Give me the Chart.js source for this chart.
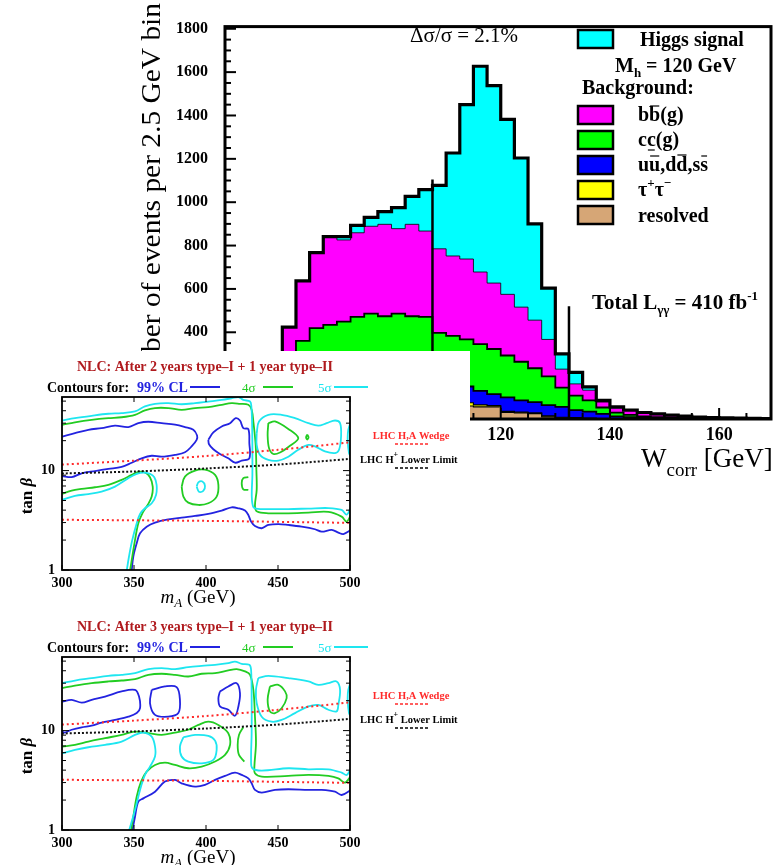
<!DOCTYPE html>
<html><head><meta charset="utf-8">
<script src="https://cdn.jsdelivr.net/npm/chart.js@4.4.1/dist/chart.umd.min.js"></script>
<style>
html,body{margin:0;padding:0;background:#fff;}
body{width:776px;height:865px;overflow:hidden;position:relative;}
canvas{position:absolute;left:0;}
#hist{top:0;}
#cover{position:absolute;left:0;top:351px;width:470px;height:514px;background:#fff;}
#p1{top:351px;}
#p2{top:611px;}
</style></head><body>
<canvas id="hist" width="776" height="480" style="width:776px;height:480px"></canvas>
<div id="cover"></div>
<canvas id="p1" width="470" height="260" style="width:470px;height:260px"></canvas>
<canvas id="p2" width="470" height="260" style="width:470px;height:260px"></canvas>
<script>
const SERIF = '"Liberation Serif", "Times New Roman", serif';

// ================= Histogram data =================
const binLow = [80,82.5,85,87.5,90,92.5,95,97.5,100,102.5,105,107.5,110,112.5,115,117.5,120,122.5,125,127.5,130,132.5,135,137.5,140,142.5,145,147.5,150,152.5,155,157.5,160,162.5,165,167.5];
const binWidth = 2.5;
const resolvedBkg = [50,70,80,85,85,85,85,85,80,80,75,70,65,60,56,56,30,28,25,10,5,4,2,1,0,0,0,0,0,0,0,0,0,0,0,0];
const tautauBkg   = [20,25,30,30,33,35,35,35,38,35,35,30,25,15,9,6,5,4,3,4,3,2,2,1,1,0,0,0,0,0,0,0,0,0,0,0];
const udsBkg      = [50,65,70,75,77,80,85,85,87,85,85,85,80,75,65,53,65,54,50,50,48,35,30,22,11,8,5,3,2,1,1,0,0,0,0,0];
const ccBkg       = [130,200,239,244,254,271,281,269,281,274,276,212,213,217,215,208,193,178,156,133,89,67,52,29,17,11,7,6,4,3,2,2,2,1,1,0];
const bbBkg       = [174,277,348,407,377,388,403,424,392,424,396,388,369,371,333,304,282,252,222,170,85,54,47,25,21,22,16,11,9,6,4,3,2,2,1,1];
const higgsSignal = [0,0,0,0,15,34,41,59,97,129,191,293,475,712,949,911,807,688,444,237,70,53,15,8,6,0,2,4,3,3,2,1,1,1,1,1];
const cutPositions = [107.5, 132.5];
const cutHeights = [1105, 520];
const histYTicks = [0,200,400,600,800,1000,1200,1400,1600,1800];
const histXTicks = [80,100,120,140,160];

const layerDefs = [
  {vals: resolvedBkg, color:'#d6a676', w:1.2},
  {vals: tautauBkg,   color:'#ffff00', w:1.2},
  {vals: udsBkg,      color:'#0000ff', w:1.8},
  {vals: ccBkg,       color:'#00ff00', w:1.8},
  {vals: bbBkg,       color:'#ff00ff', w:0.8},
  {vals: higgsSignal, color:'#00ffff', w:3.2}
];
let running = binLow.map(()=>0);
const histDatasets = layerDefs.map(L => {
  running = running.map((v,i)=>v+L.vals[i]);
  const pts = [{x:binLow[0], y:0}]
    .concat(running.map((v,i)=>({x:binLow[i], y:v})))
    .concat([{x:binLow[binLow.length-1]+binWidth, y:0}]);
  return {data:pts, stepped:true, fill:'origin', backgroundColor:L.color, borderColor:'#000',
          borderWidth:L.w, pointRadius:0, borderJoinStyle:'miter'};
});
cutPositions.forEach((c,i)=>histDatasets.push({
  data:[{x:c,y:0},{x:c,y:cutHeights[i]}], borderColor:'#000', borderWidth:2.5,
  pointRadius:0, fill:false, order:-1}));

function seg(ctx,x1,y1,x2,y2){ctx.beginPath();ctx.moveTo(x1,y1);ctx.lineTo(x2,y2);ctx.stroke();}
function runs(ctx, x, y, items, color){
  ctx.fillStyle=color; ctx.strokeStyle=color; ctx.textAlign='left'; ctx.textBaseline='alphabetic';
  for(const it of items){
    ctx.font=it.f; ctx.fillText(it.t, x, y+(it.dy||0));
    const w=ctx.measureText(it.t).width;
    if(it.bar){ctx.lineWidth=1.2; seg(ctx,x+1,y-it.bar,x+w-1,y-it.bar);}
    x+=w;
  }
  return x;
}
function runsWidth(ctx, items){let w=0;for(const it of items){ctx.font=it.f;w+=ctx.measureText(it.t).width;}return w;}

const B20 = 'bold 20px '+SERIF, B21='bold 21px '+SERIF, B13='bold 13px '+SERIF;
const histDecor = {
  id:'histDecor',
  afterDraw(chart){
    const {ctx, chartArea:a, scales:{x,y}} = chart;
    ctx.save();
    ctx.strokeStyle='#000'; ctx.lineWidth=3;
    ctx.strokeRect(a.left, a.top, a.right-a.left, a.bottom-a.top);
    ctx.lineWidth=2;
    for(let v=0; v<=1800; v+=50){const py=y.getPixelForValue(v); seg(ctx,a.left,py,a.left+(v%200===0?11:6),py);}
    for(let v=70; v<=165; v+=5){const px=x.getPixelForValue(v); seg(ctx,px,a.bottom,px,a.bottom-(v%20===0?11:6));}
    // y title
    ctx.save(); ctx.translate(153,3); ctx.rotate(-Math.PI/2); ctx.scale(1.09,1);
    ctx.font='27px '+SERIF; ctx.fillStyle='#000'; ctx.textAlign='right'; ctx.textBaseline='middle';
    ctx.fillText('Number of events per 2.5 GeV bin',0,0); ctx.restore();
    // x title
    runs(ctx, 641, 467, [{t:'W',f:'27px '+SERIF},{t:'corr',f:'19px '+SERIF,dy:9},{t:' [GeV]',f:'27px '+SERIF}], '#000');
    // delta sigma
    ctx.font='21px '+SERIF; ctx.fillStyle='#000'; ctx.textAlign='left'; ctx.fillText('\u0394\u03c3/\u03c3 = 2.1%', 410, 42);
    // legend
    const boxes=[[30,5],[106,4],[131,3],[156,2],[181,1],[206,0]];
    for(const [top,idx] of boxes){
      ctx.fillStyle=layerDefs[idx].color; ctx.fillRect(578,top,35,18);
      ctx.strokeStyle='#000'; ctx.lineWidth=2.5; ctx.strokeRect(578,top,35,18);
    }
    runs(ctx, 640, 46, [{t:'Higgs signal',f:B20}], '#000');
    runs(ctx, 615, 72, [{t:'M',f:B20},{t:'h',f:B13,dy:5},{t:' = 120 GeV',f:B20}], '#000');
    runs(ctx, 582, 94, [{t:'Background:',f:B20}], '#000');
    runs(ctx, 638, 121, [{t:'b',f:B20},{t:'b',f:B20,bar:15},{t:'(g)',f:B20}], '#000');
    runs(ctx, 638, 146, [{t:'c',f:B20},{t:'c',f:B20,bar:-4},{t:'(g)',f:B20}], '#000');
    runs(ctx, 638, 171, [{t:'u',f:B20},{t:'u',f:B20,bar:15},{t:',d',f:B20},{t:'d',f:B20,bar:16},{t:',s',f:B20},{t:'s',f:B20,bar:15}], '#000');
    runs(ctx, 638, 196, [{t:'\u03c4',f:B20},{t:'+',f:B13,dy:-9},{t:'\u03c4',f:B20},{t:'\u2212',f:B13,dy:-9}], '#000');
    runs(ctx, 638, 222, [{t:'resolved',f:B20}], '#000');
    runs(ctx, 592, 309, [{t:'Total L',f:B21},{t:'\u03b3\u03b3',f:B13,dy:5},{t:' = 410 fb',f:B21},{t:'-1',f:B13,dy:-9}], '#000');
    ctx.restore();
  }
};

new Chart(document.getElementById('hist'), {
  type:'line',
  data:{datasets:histDatasets},
  options:{
    responsive:false, animation:false, events:[],
    layout:{padding:{left:0,right:5,top:12,bottom:0}},
    plugins:{legend:{display:false}, tooltip:{enabled:false}, filler:{drawTime:'beforeDatasetsDraw', propagate:false}},
    scales:{
      x:{type:'linear', min:69.5, max:169.5,
         afterBuildTicks:s=>{s.ticks=histXTicks.map(v=>({value:v}));},
         afterFit:s=>{s.height=61;},
         grid:{display:false, drawTicks:false}, border:{display:false},
         ticks:{color:'#000', font:{family:SERIF,size:18,weight:'bold'}, padding:6, maxRotation:0, autoSkip:false, callback:v=>String(v)}},
      y:{type:'linear', min:0, max:1810,
         afterBuildTicks:s=>{s.ticks=histYTicks.map(v=>({value:v}));},
         afterFit:s=>{s.width=225;},
         grid:{display:false, drawTicks:false}, border:{display:false},
         ticks:{color:'#000', font:{family:SERIF,size:16,weight:'bold'}, padding:17, autoSkip:false, callback:v=>String(v)}}
    }
  },
  plugins:[histDecor]
});

// ================= Contour panels data (mA [GeV], tan beta) =================
const panelXTicks = [300,350,400,450,500];
const panelYTicks = [1,10];
const wedgeUpper = [[300,11.5],[350,12.6],[400,14.0],[450,16.2],[500,19.2]];
const wedgeLower = [[300,3.2],[400,3.12],[500,2.98]];
const hplusLimit = [[300,9.35],[350,9.8],[400,10.5],[450,11.5],[500,13.1]];
const cyanEdgeArc = [[500.7,31.2],[498.8,25.7],[498.4,20.4],[499.3,15],[500.7,13.8]];

const p1Cyan5Band = [[300.2,31.9],[309,33.7],[320.6,35.6],[332.2,37.3],[341.4,37.9],[350.7,39.4],[357.6,44.2],[364.6,47.0],[373.8,47.7],[383.1,46.5],[392.4,47.7],[401.6,49.5],[410.9,51.4],[417.8,53.4],[422.5,54.9],[425.9,51.4],[430.6,49.5],[431.5,44],[432,30],[432.2,18],[432.2,9],[431.8,5.5],[432.9,4.3],[436,4.12],[443.3,4.1],[457.2,4.1],[471,4.15],[485,4.2],[494.2,4.02],[497.7,3.6],[500.7,4.3]];
const p1Green4Band = [[300.2,28.9],[309,30.6],[320.6,32.4],[332.2,33.7],[341.4,34.4],[350.7,36.4],[357.6,40.3],[364.6,42.6],[373.8,42.6],[383.1,40.9],[392.4,42.6],[401.6,43.5],[410.9,45.9],[417.8,47.7],[423.6,47.0],[429.4,45.9],[431.7,40.9],[433,30],[434.5,18],[435,10],[435.2,6.4],[434,4.4],[435.5,3.87],[443.3,3.72],[457.2,3.72],[471.1,3.78],[485,3.84],[494.2,3.44],[497.7,3.07],[500.7,3.58]];
const p1Blue99Left = [[300.2,22.0],[309,23.8],[318.3,25.7],[327.5,26.8],[336.8,28.3],[346.1,27.4],[353,30.0],[360,31.0],[369.2,30.0],[378.5,29.0],[385.4,27.4],[391.2,25.7],[393.8,22.5],[393.5,20.4],[390,17.5],[385.4,15.3],[378.5,14.4],[369.2,13.8],[362.3,14.1],[355.3,13.3],[348.4,12.0],[341.4,10.9],[332.2,10.4],[322.9,9.9],[313.7,9.4],[306.7,8.6],[300.2,8.8]];
const p1Blue99Mid = [[401.6,20.4],[405.1,24.2],[410.9,27.8],[416.7,30.0],[420.6,33.7],[423.6,31.9],[425.9,26.8],[429.4,26.1],[430.1,18.9],[430.1,13.3],[424.8,12.6],[420.1,12.0],[415.5,13.3],[409.7,14.7],[405.1,16.4],[402.1,18.4],[401.6,20.4]];
const p1Blue99Low = [[348.4,0.98],[349.5,1.36],[351.9,1.86],[354.2,2.34],[358.8,2.73],[364.6,3.0],[373.8,3.23],[383.1,3.37],[392.4,3.5],[401.6,3.66],[410.9,3.96],[417.8,4.27],[422.5,4.18],[427.1,3.96],[429.4,3.58],[431.3,3.07],[434,2.77],[438.7,2.63],[443.3,2.84],[450.2,2.9],[457.2,2.84],[466.4,2.73],[475.7,2.57],[480.3,2.43],[487.3,2.53],[491.9,2.38],[495.4,2.3],[500.7,2.53]];
const p1Green4Low = [[347.2,0.98],[348.8,1.36],[350.7,2.0],[353,2.95],[355.8,3.72],[359.5,4.51],[362.3,5.48],[363,6.9],[361.1,8.58],[357.6,9.56],[353,9.7],[348.4,9.05],[341.4,8.07],[332.2,7.18],[322.9,6.8],[313.7,6.55],[306.7,6.3],[300.2,5.85]];
const p1Cyan5Low = [[344.9,0.98],[346.5,1.36],[348.8,2.0],[351.9,2.95],[354.2,3.66],[357.6,4.18],[362.3,4.69],[365.3,5.69],[365.7,7.18],[364.1,8.58],[361.1,9.26],[356.5,9.56],[351.9,9.26],[346.1,8.39],[336.8,6.9],[327.5,6.14],[318.3,5.8],[309,5.57],[300.2,5.07]];
const p1Green4Ring = [[383.1,6.9],[385.4,8.71],[392.4,10.0],[399.3,10.2],[406.3,9.05],[408.6,7.18],[407.4,5.48],[401.6,4.69],[394.7,4.51],[387.7,4.76],[384.3,5.48],[383.1,6.9]];
const p1Cyan5Dot = [[393.5,6.9],[394.7,7.6],[397.5,7.76],[399.3,7.0],[398.1,6.24],[395.1,6.14],[393.5,6.9]];
const p1Green4Bump = [[429.4,8.58],[425.9,8.39],[424.8,7.46],[425.9,6.49],[429.4,6.39]];
const p1Cyan5Right = [[435.2,23.8],[436.8,31.2],[443.3,36.4],[452.5,36.4],[461.8,33.7],[471.1,30.0],[478,28.3],[483.8,30.0],[489.6,31.9],[493.1,30.0],[493.8,22.0],[492.4,16.2],[489.6,15.0],[482.6,15.6],[475.7,17.5],[471.1,18.1],[464.1,16.2],[457.2,13.8],[450.2,12.6],[443.3,12.8],[437.5,14.4],[435.2,18.1],[435.2,23.8]];
const p1Green4Tri = [[443.3,30.0],[447.9,31.2],[457.2,26.2],[464.1,21.2],[458.3,17.8],[451.4,15.2],[446.8,14.7],[443.8,16.8],[442.8,22.8],[443.3,30.0]];
const p1Green4Dot = [[470.3,23.0],[471.2,21.7],[470.3,20.5],[469.5,21.7],[470.3,23.0]];

const p2Cyan5Band = [[300.2,30.0],[309,31.9],[320.6,33.7],[332.2,35.6],[341.4,36.4],[350.7,37.9],[360,41.6],[369.2,42.6],[378.5,41.6],[387.7,43.5],[397,44.8],[406.3,45.9],[415.5,47.7],[420.1,49.5],[424.8,47.0],[430.1,45.9],[431.3,40.9],[431.7,20.4],[431.7,9.41],[431.3,5.07],[432.2,4.18],[438.7,3.96],[457.2,4.18],[471.1,4.08],[485,4.08],[494.2,3.78],[497.7,3.58],[500.7,4.18]];
const p2Green4Band = [[300.2,26.8],[309,28.3],[320.6,30.0],[332.2,31.2],[341.4,31.9],[350.7,32.9],[360,36.4],[369.2,37.3],[378.5,36.4],[387.7,35.0],[397,37.3],[406.3,37.9],[415.5,40.3],[421.3,41.6],[427.1,39.4],[430.6,36.4],[432.9,25.7],[434,13.8],[434.7,7.46],[433.6,4.34],[434,3.72],[438.7,3.44],[457.2,3.5],[471.1,3.58],[485,3.5],[491.9,3.31],[496.5,3.0],[500.7,3.5]];
const p2Blue99Left = [[300.2,19.6],[306.7,20.4],[313.7,19.1],[320.6,20.4],[329.9,22.0],[341.4,24.8],[350.7,25.7],[353.5,22.0],[354.2,16.8],[351.9,15.0],[346.1,13.8],[336.8,12.8],[327.5,12.0],[320.6,11.2],[313.7,10.8],[306.7,10.2],[302,9.56],[300.2,9.78]];
const p2Blue99Ring = [[362.3,25.7],[371.5,27.8],[379.6,27.4],[381.9,20.4],[380.8,15.0],[373.8,13.8],[364.6,14.4],[361.1,18.9],[362.3,25.7]];
const p2Blue99Oval = [[409.7,24.8],[415.5,27.8],[421.3,30.0],[423.6,23.8],[422.5,17.5],[420.1,14.1],[415.5,16.2],[409.7,17.5],[408.6,21.2],[409.7,24.8]];
const p2Green4Mid = [[347.9,0.98],[349.5,1.36],[351.9,2.17],[354.9,3.07],[358.8,3.87],[364.6,4.51],[371.5,4.76],[378.5,4.51],[387.7,4.18],[397,4.34],[406.3,4.88],[413.2,5.69],[416.7,7.18],[415.5,9.41],[408.6,11.4],[401.6,12.3],[394.7,11.4],[387.7,10.2],[378.5,9.56],[369.2,9.05],[360,9.41],[350.7,9.78],[341.4,9.05],[329.9,8.39],[318.3,7.76],[309,7.18],[300.2,6.9]];
const p2Green4Bump = [[425.9,10.8],[422.9,9.05],[422,7.18],[422.9,5.69],[426.6,4.88]];
const p2Cyan5Low = [[300.2,5.91],[309,6.39],[318.3,6.8],[329.9,7.18],[341.4,7.76],[350.7,9.05],[356.5,9.56],[362.3,8.71],[364.6,6.9],[364.6,5.48],[361.1,4.34],[357.6,3.58],[354.2,2.53],[350.7,1.59],[346.5,0.98]];
const p2Cyan5Ring = [[384.3,8.58],[392.4,9.05],[401.6,8.84],[406.3,7.92],[407.4,6.39],[405.1,5.07],[397,4.69],[387.7,4.88],[383.1,5.48],[381.9,6.9],[384.3,8.58]];
const p2Blue99Low = [[348.8,0.98],[350.7,1.36],[353,1.93],[356.5,2.08],[364.6,2.43],[371.5,3.07],[378.5,3.19],[383.1,2.95],[392.4,2.73],[399.3,2.84],[406.3,3.19],[413.2,3.5],[420.1,3.78],[424.8,3.58],[429.4,3.31],[431.7,2.95],[434,2.53],[438.7,2.38],[447.9,2.53],[457.2,2.57],[471.1,2.53],[480.3,2.53],[489.6,2.43],[494.2,2.25],[500.7,2.53]];
const p2Cyan5Right = [[436.3,33.7],[443.3,35.6],[457.2,33.7],[471.1,31.2],[478,28.9],[485,30.0],[490.7,31.2],[493.1,25.7],[491.9,18.1],[490.7,15.6],[485,16.2],[478,18.1],[471.1,17.5],[461.8,15.0],[452.5,12.8],[445.6,12.3],[438.7,13.8],[435.2,18.9],[434.7,25.7],[436.3,33.7]];
const p2Green4Oval = [[444.4,27.8],[450.2,28.9],[454.9,24.8],[456,21.2],[452.5,16.8],[447.9,15.0],[444.4,15.6],[442.8,20.4],[444.4,27.8]];

const C_BLUE='#2323e0', C_GREEN='#22cc22', C_CYAN='#1ee6f0', C_RED='#ff2a2a', C_TITLE='#b01a1e';

function panelDecor(titleText){
  return {
    id:'panelDecor',
    afterDraw(chart){
      const {ctx, chartArea:a, scales:{x,y}} = chart;
      ctx.save();
      ctx.strokeStyle='#000'; ctx.lineWidth=1.8;
      ctx.strokeRect(a.left,a.top,a.right-a.left,a.bottom-a.top);
      ctx.lineWidth=1;
      for(const v of panelXTicks){const px=x.getPixelForValue(v); seg(ctx,px,a.bottom,px,a.bottom-5); seg(ctx,px,a.top,px,a.top+5);}
      for(let d=1; d<=10; d*=10) for(let m=1; m<10; m++){
        const v=m*d; if(v>55) continue; const py=y.getPixelForValue(v); const len=(m===1)?7:4;
        seg(ctx,a.left,py,a.left+len,py); seg(ctx,a.right,py,a.right-len,py);
      }
      // title
      ctx.font='bold 14px '+SERIF; ctx.fillStyle=C_TITLE; ctx.textAlign='center'; ctx.textBaseline='alphabetic';
      ctx.fillText(titleText, 205, 20);
      // legend row
      runs(ctx, 47, 41, [{t:'Contours for:',f:'bold 14px '+SERIF}], '#000');
      runs(ctx, 137, 41, [{t:'99% CL',f:'bold 14px '+SERIF}], C_BLUE);
      runs(ctx, 242, 41, [{t:'4\u03c3',f:'13px '+SERIF}], C_GREEN);
      runs(ctx, 318, 41, [{t:'5\u03c3',f:'13px '+SERIF}], C_CYAN);
      ctx.lineWidth=2;
      ctx.strokeStyle=C_BLUE; seg(ctx,190,36,220,36);
      ctx.strokeStyle=C_GREEN; seg(ctx,263,36,293,36);
      ctx.strokeStyle=C_CYAN; seg(ctx,334,36,368,36);
      // LHC annotations
      ctx.font='bold 10.5px '+SERIF; ctx.fillStyle=C_RED; ctx.textAlign='center';
      ctx.fillText('LHC H,A Wedge', 411, 88);
      ctx.setLineDash([3,2]); ctx.strokeStyle=C_RED; ctx.lineWidth=1.6; seg(ctx,395,93,430,93);
      ctx.setLineDash([]);
      runs(ctx, 360, 112, [{t:'LHC H',f:'bold 10.5px '+SERIF},{t:'+',f:'bold 8px '+SERIF,dy:-6},{t:' Lower Limit',f:'bold 10.5px '+SERIF}], '#000');
      ctx.setLineDash([3,2]); ctx.strokeStyle='#000'; ctx.lineWidth=1.6; seg(ctx,395,117,430,117);
      ctx.setLineDash([]);
      // y title
      ctx.save(); ctx.translate(26,145); ctx.rotate(-Math.PI/2);
      const yItems=[{t:'tan ',f:'bold 17px '+SERIF},{t:'\u03b2',f:'italic bold 17px '+SERIF}];
      const yw=runsWidth(ctx,yItems);
      runs(ctx, -yw/2, 6, yItems, '#000'); ctx.restore();
      // x title
      const xItems=[{t:'m',f:'italic 19px '+SERIF},{t:'A',f:'italic 13px '+SERIF,dy:4},{t:' (GeV)',f:'19px '+SERIF}];
      const xw=runsWidth(ctx,xItems);
      runs(ctx, 198-xw/2, 252, xItems, '#000');
      ctx.restore();
    }
  };
}

function lineSet(pts, color, w, dash){
  return {data:pts.map(p=>({x:p[0],y:p[1]})), borderColor:color, borderWidth:w, borderDash:dash||[],
          showLine:true, pointRadius:0, fill:false, tension: dash ? 0.3 : 0.35};
}
function makePanel(id, titleText, sets){
  new Chart(document.getElementById(id), {
    type:'scatter',
    data:{datasets:sets},
    options:{
      responsive:false, animation:false, events:[],
      layout:{padding:{left:0,right:120,top:46,bottom:0}},
      plugins:{legend:{display:false}, tooltip:{enabled:false}},
      scales:{
        x:{type:'linear', min:300, max:500,
           afterBuildTicks:s=>{s.ticks=panelXTicks.map(v=>({value:v}));},
           afterFit:s=>{s.height=41;},
           grid:{display:false,drawTicks:false}, border:{display:false},
           ticks:{color:'#000', font:{family:SERIF,size:14,weight:'bold'}, padding:5, maxRotation:0, autoSkip:false, callback:v=>String(v)}},
        y:{type:'logarithmic', min:1, max:55,
           afterBuildTicks:s=>{s.ticks=panelYTicks.map(v=>({value:v}));},
           afterFit:s=>{s.width=62;},
           grid:{display:false,drawTicks:false}, border:{display:false},
           ticks:{color:'#000', font:{family:SERIF,size:14,weight:'bold'}, padding:7, autoSkip:false, callback:v=>String(v)}}
      }
    },
    plugins:[panelDecor(titleText)]
  });
}

const W=1.8;
makePanel('p1', 'NLC: After 2 years type\u2013I + 1 year type\u2013II', [
  lineSet(wedgeUpper, C_RED, 2, [2,3]), lineSet(wedgeLower, C_RED, 2, [2,3]), lineSet(hplusLimit, '#111', 2, [2,2]),
  lineSet(p1Cyan5Band, C_CYAN, W), lineSet(p1Cyan5Low, C_CYAN, W), lineSet(p1Cyan5Dot, C_CYAN, W),
  lineSet(p1Cyan5Right, C_CYAN, W), lineSet(cyanEdgeArc, C_CYAN, W),
  lineSet(p1Green4Band, C_GREEN, W), lineSet(p1Green4Low, C_GREEN, W), lineSet(p1Green4Ring, C_GREEN, W),
  lineSet(p1Green4Bump, C_GREEN, W), lineSet(p1Green4Tri, C_GREEN, W), lineSet(p1Green4Dot, C_GREEN, W),
  lineSet(p1Blue99Left, C_BLUE, W), lineSet(p1Blue99Mid, C_BLUE, W), lineSet(p1Blue99Low, C_BLUE, W)
]);
makePanel('p2', 'NLC: After 3 years type\u2013I + 1 year type\u2013II', [
  lineSet(wedgeUpper, C_RED, 2, [2,3]), lineSet(wedgeLower, C_RED, 2, [2,3]), lineSet(hplusLimit, '#111', 2, [2,2]),
  lineSet(p2Cyan5Band, C_CYAN, W), lineSet(p2Cyan5Low, C_CYAN, W), lineSet(p2Cyan5Ring, C_CYAN, W),
  lineSet(p2Cyan5Right, C_CYAN, W), lineSet(cyanEdgeArc, C_CYAN, W),
  lineSet(p2Green4Band, C_GREEN, W), lineSet(p2Green4Mid, C_GREEN, W), lineSet(p2Green4Bump, C_GREEN, W),
  lineSet(p2Green4Oval, C_GREEN, W),
  lineSet(p2Blue99Left, C_BLUE, W), lineSet(p2Blue99Ring, C_BLUE, W), lineSet(p2Blue99Oval, C_BLUE, W),
  lineSet(p2Blue99Low, C_BLUE, W)
]);
</script></body></html>
